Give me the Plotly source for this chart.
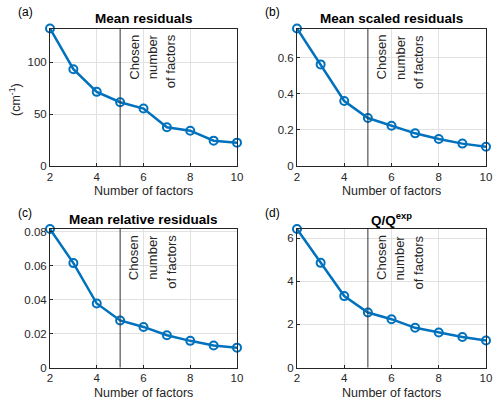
import plotly.graph_objects as go

factors = [2, 3, 4, 5, 6, 7, 8, 9, 10]
mean_residuals = [132.4, 93.2, 71.4, 61.4, 55.3, 37.3, 34.0, 24.4, 22.5]
mean_scaled_residuals = [0.762, 0.563, 0.360, 0.266, 0.223, 0.181, 0.150, 0.124, 0.107]
mean_relative_residuals = [0.0816, 0.0615, 0.0377, 0.0277, 0.0239, 0.0190, 0.0157, 0.0130, 0.0117]
q_ratio = [6.42, 4.85, 3.31, 2.55, 2.24, 1.84, 1.62, 1.41, 1.25]

titles = ["<b>Mean residuals</b>", "<b>Mean scaled residuals</b>",
          "<b>Mean relative residuals</b>", "<b>Q/Q<sup>exp</sup></b>"]
panel_labels = ["(a)", "(b)", "(c)", "(d)"]
y_dticks = [50, 0.2, 0.02, 2]
chosen_factors = 5
chosen_text = ["Chosen", "number", "of factors"]
x_ticks = [2, 4, 6, 8, 10]

W, H = 500, 409
BLUE = "#0072BD"
FONT = "Liberation Sans, Arial, Helvetica, sans-serif"
TXT = "#262626"

# plot boxes in pixels: (left, right, top, bottom)
boxes = [(50, 237, 28.5, 166), (297, 486, 28.5, 166),
         (50, 237, 229, 367.5), (297, 486, 229, 367.5)]

series = [mean_residuals, mean_scaled_residuals, mean_relative_residuals, q_ratio]

fig = go.Figure()
annotations = []
shapes = []
for i, (vals, box) in enumerate(zip(series, boxes)):
    l, r, t, b = box
    sfx = "" if i == 0 else str(i + 1)
    xa, ya = "x" + sfx, "y" + sfx
    fig.add_trace(go.Scatter(
        x=factors, y=vals, mode="lines+markers", xaxis=xa, yaxis=ya,
        line=dict(color=BLUE, width=2.5),
        marker=dict(symbol="circle-open", size=8, color=BLUE, line=dict(width=2, color=BLUE)),
        showlegend=False, cliponaxis=False))
    common = dict(showgrid=True, gridcolor="#e1e1e1", gridwidth=1,
                  showline=True, linecolor=TXT, linewidth=1, mirror=True,
                  ticks="inside", ticklen=3, tickcolor=TXT, zeroline=False, automargin=False,
                  tickfont=dict(family=FONT, size=11.5, color=TXT))
    fig.update_layout(**{
        ("xaxis" + sfx): dict(domain=[l / W, r / W], anchor=ya, range=[2, 10],
                              tickvals=x_ticks, **common),
        ("yaxis" + sfx): dict(domain=[1 - b / H, 1 - t / H], anchor=xa,
                              range=[0, max(vals)], dtick=y_dticks[i], tick0=0, **common),
    })
    # chosen number of factors line
    shapes.append(dict(type="line", xref=xa, yref=ya + " domain", x0=chosen_factors, x1=chosen_factors,
                       y0=0, y1=1, line=dict(color="#333333", width=1)))
    for j, line_txt in enumerate(chosen_text):
        annotations.append(dict(xref=xa, yref=ya + " domain", x=chosen_factors, y=1,
                                xanchor="left", yanchor="top", xshift=4 + 18.5 * j, yshift=-4,
                                text=line_txt, textangle=-90,
                                showarrow=False, font=dict(family=FONT, size=13, color=TXT)))
    # title
    annotations.append(dict(xref="paper", yref="paper", x=(l + r) / 2 / W, y=1 - (t - 10) / H,
                            xanchor="center", yanchor="middle", text=titles[i], showarrow=False,
                            font=dict(family=FONT, size=13.5, color="black")))
    # panel label
    annotations.append(dict(xref="paper", yref="paper", x=(l - 34) / W, y=1 - (t - 16) / H,
                            xanchor="left", yanchor="middle", text=panel_labels[i], showarrow=False,
                            font=dict(family=FONT, size=12, color="black")))
    # x axis label
    annotations.append(dict(xref="paper", yref="paper", x=(l + r) / 2 / W, y=1 - (b + 25) / H,
                            xanchor="center", yanchor="middle", text="Number of factors", showarrow=False,
                            font=dict(family=FONT, size=12.5, color=TXT)))

annotations.append(dict(xref="paper", yref="paper", x=15 / W, y=1 - 100 / H,
                        xanchor="center", yanchor="middle", text="(cm<sup>-1</sup>)", textangle=-90,
                        showarrow=False, font=dict(family=FONT, size=12.5, color=TXT)))

fig.update_layout(width=W, height=H, margin=dict(l=0, r=0, t=0, b=0),
                  paper_bgcolor="white", plot_bgcolor="white",
                  annotations=annotations, shapes=shapes,
                  font=dict(family=FONT, color=TXT))
fig.write_html("out.html", config={"displayModeBar": False},
               post_script="document.body.style.margin='0';")
